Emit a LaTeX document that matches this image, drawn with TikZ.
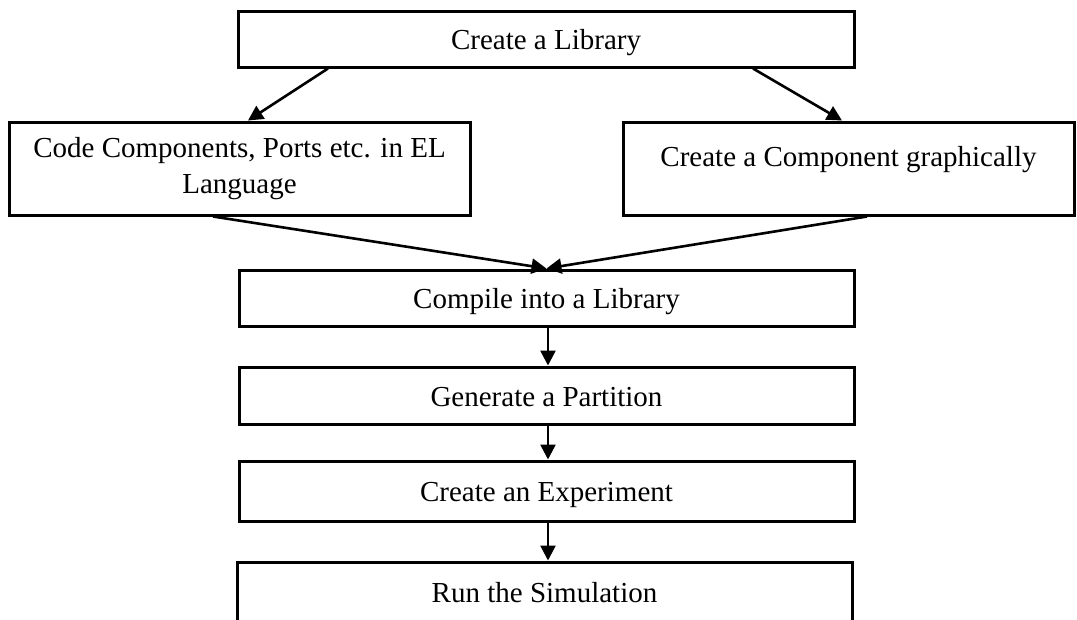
\documentclass[tikz,border=0pt]{standalone}
\usepackage{fontspec}
\setmainfont{Liberation Serif}
\usetikzlibrary{arrows.meta}
\begin{document}
\begin{tikzpicture}[x=1pt,y=-1pt,
  stepbox/.style={draw=black, line width=3pt, fill=white, rectangle, inner sep=0pt,
    font=\fontsize{29}{36}\selectfont, align=center},
  oneline/.style={stepbox, text height=21.2pt, text depth=0pt},
  conn/.style={line width=2.6pt, -{Triangle[length=15pt,width=15pt]}}]
\useasboundingbox (0,0) rectangle (1077,619);
\clip (0,0) rectangle (1077,619);
\node[oneline, minimum width=616pt, minimum height=56pt] (lib) at (546,39) {Create a Library};
\node[stepbox, minimum width=461pt, minimum height=93pt] (code) at (239.5,168.5) {Code Components, Ports etc. in EL\\Language};
\node[stepbox, text height=21.2pt, text depth=26.2pt, minimum width=451pt, minimum height=93pt] (comp) at (848.5,168.5) {Create a Component graphically};
\node[oneline, minimum width=615pt, minimum height=56pt] (compile) at (546.5,298) {Compile into a Library};
\node[oneline, minimum width=615pt, minimum height=57pt] (gen) at (546.5,395.5) {Generate a Partition};
\node[oneline, minimum width=615pt, minimum height=60pt] (exp) at (546.5,491) {Create an Experiment};
\node[oneline, minimum width=615pt, minimum height=60pt] (run) at (544.5,592) {Run the Simulation};
\draw[conn] ([xshift=-218pt]lib.south) -- ([xshift=8.5pt]code.north);
\draw[conn] ([xshift=207pt]lib.south) -- ([xshift=-6.5pt]comp.north);
\draw[conn] ([xshift=-26.5pt]code.south) -- (compile.north);
\draw[conn] ([xshift=18.5pt]comp.south) -- (compile.north);
\draw[conn] ([xshift=1.5pt]compile.south) -- ([xshift=1.5pt]gen.north);
\draw[conn] ([xshift=1.5pt]gen.south) -- ([xshift=1.5pt]exp.north);
\draw[conn] ([xshift=1.5pt]exp.south) -- ([xshift=1.5pt]exp.south |- run.north);
\end{tikzpicture}
\end{document}
